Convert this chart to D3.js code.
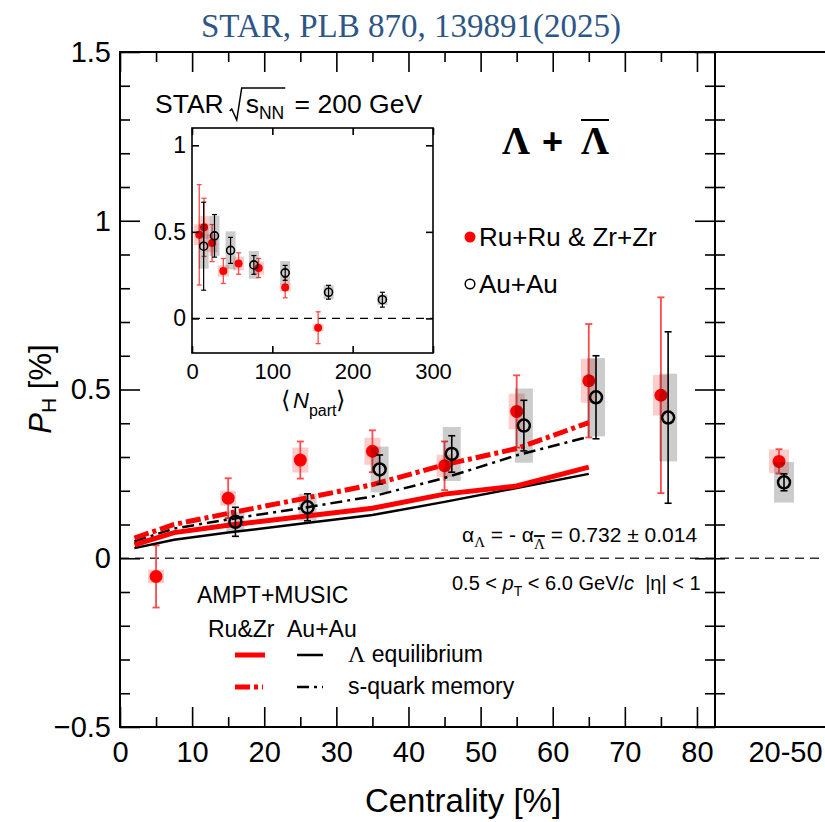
<!DOCTYPE html>
<html>
<head>
<meta charset="utf-8">
<title>STAR global hyperon polarization</title>
<script src="https://cdn.jsdelivr.net/npm/d3@7"></script>
<style>
  body { margin: 0; background: #fff; }
  text { font-family: "Liberation Sans", Arial, Helvetica, sans-serif; fill: #000; white-space: pre; }
  .serif { font-family: "Liberation Serif", "Times New Roman", serif; }
  .frame { stroke: #000; stroke-width: 2; fill: none; }
  .tk line { stroke: #000; stroke-width: 1.6; }
  .tk .domain { display: none; }
</style>
</head>
<body>
<script>
// ---------- data ----------
// isobar (Ru+Ru & Zr+Zr) points, P_H [%] vs centrality [%]
var centRu  = [5, 15, 25, 35, 45, 55, 65, 75];
var phRu    = [-0.054, 0.178, 0.291, 0.317, 0.274, 0.435, 0.526, 0.483];
var statRu  = [0.092, 0.059, 0.055, 0.062, 0.072, 0.107, 0.168, 0.290];
var sysRu   = [0.020, 0.022, 0.037, 0.040, 0.033, 0.053, 0.065, 0.060];
var npartRu = [157, 116, 83, 58, 39, 25, 15, 9];

// Au+Au points (drawn shifted by +1 in centrality)
var centAu  = [15, 25, 35, 45, 55, 65, 75];
var phAu    = [0.108, 0.151, 0.263, 0.309, 0.393, 0.477, 0.417];
var statAu  = [0.043, 0.040, 0.043, 0.054, 0.075, 0.123, 0.254];
var sysAu   = [0.030, 0.040, 0.068, 0.080, 0.110, 0.116, 0.130];
var npartAu = [237, 170, 116, 77, 48, 28, 14.5];
var auShift = 1;

// AMPT+MUSIC curves
var centModel = [2, 7.5, 15, 25, 35, 45, 55, 65];
var eqRuZr  = [0.040, 0.076, 0.098, 0.123, 0.148, 0.190, 0.214, 0.270];
var eqAuAu  = [0.030, 0.055, 0.076, 0.102, 0.128, 0.167, 0.208, 0.250];
var memRuZr = [0.060, 0.100, 0.133, 0.175, 0.218, 0.277, 0.325, 0.402];
var memAuAu = [0.050, 0.088, 0.115, 0.148, 0.183, 0.238, 0.305, 0.360];

// 20-50% integrated panel
var avgBins   = ["20-50"];
var phRuAvg   = [0.287];
var statRuAvg = [0.036];
var sysRuAvg  = [0.035];
var phAuAvg   = [0.225];
var statAuAvg = [0.025];
var sysAuAvg  = [0.060];

// ticks
var xMajor = [0, 10, 20, 30, 40, 50, 60, 70, 80];
var xMinor = [5, 15, 25, 35, 45, 55, 65, 75];
var yMajor = [-0.5, 0, 0.5, 1, 1.5];
var yMinor = [-0.4, -0.3, -0.2, -0.1, 0.1, 0.2, 0.3, 0.4, 0.6, 0.7, 0.8, 0.9, 1.1, 1.2, 1.3, 1.4];
var yAll   = [-0.4, -0.3, -0.2, -0.1, 0, 0.1, 0.2, 0.3, 0.4, 0.5, 0.6, 0.7, 0.8, 0.9, 1, 1.1, 1.2, 1.3, 1.4];
var inXTicks = [0, 100, 200, 300];
var inYTicks = [0, 0.5, 1];

// ---------- setup ----------
var width = 825, height = 822;
var RED = "#ff0000", RED_BAR = "#ff4a4a", RED_BOX = "rgba(255,0,0,0.2)", GRAY_BOX = "rgba(0,0,0,0.2)";

var svg = d3.select("body").append("svg").attr("width", width).attr("height", height);

var x  = d3.scaleLinear().domain([0, 82.5]).range([120, 715]);
var y  = d3.scaleLinear().domain([-0.5, 1.5]).range([727, 52]);
var xr = d3.scalePoint().domain(avgBins).range([715, 855]).padding(0.5);

var xi = d3.scaleLinear().domain([0, 300]).range([192, 433]);
var yi = d3.scaleLinear().domain([-0.2, 1.1]).range([353, 128]);

var fmt = d3.format("~g");

// ---------- helpers ----------
function boxes(g, px, vals, errs, ys, hw, fill) {
  g.selectAll(null).data(vals).enter().append("rect")
    .attr("x", function(d, i) { return px[i] - hw; })
    .attr("y", function(d, i) { return ys(d + errs[i]); })
    .attr("width", 2 * hw)
    .attr("height", function(d, i) { return ys(d - errs[i]) - ys(d + errs[i]); })
    .attr("fill", fill);
}

function bars(g, px, vals, errs, ys, cap, color, w) {
  var e = g.selectAll(null).data(vals).enter().append("g")
    .attr("stroke", color).attr("stroke-width", w);
  e.append("line")
    .attr("x1", function(d, i) { return px[i]; }).attr("x2", function(d, i) { return px[i]; })
    .attr("y1", function(d, i) { return ys(d + errs[i]); })
    .attr("y2", function(d, i) { return ys(d - errs[i]); });
  [1, -1].forEach(function(s) {
    e.append("line")
      .attr("x1", function(d, i) { return px[i] - cap; }).attr("x2", function(d, i) { return px[i] + cap; })
      .attr("y1", function(d, i) { return ys(d + s * errs[i]); })
      .attr("y2", function(d, i) { return ys(d + s * errs[i]); });
  });
}

function dots(g, px, vals, ys, r, filled, sw) {
  g.selectAll(null).data(vals).enter().append("circle")
    .attr("cx", function(d, i) { return px[i]; })
    .attr("cy", function(d) { return ys(d); })
    .attr("r", r)
    .attr("fill", filled ? RED : "none")
    .attr("stroke", filled ? "none" : "#000")
    .attr("stroke-width", sw || 0);
}

// place text pieces one after another, returns [x0, x1] of each piece
function seq(g, x0, y0, parts) {
  var cx = x0, out = [];
  parts.forEach(function(p) {
    cx += p.gap || 0;
    var t = g.append("text").attr("x", cx).attr("y", y0 + (p.dy || 0))
      .attr("font-size", p.size).text(p.t);
    if (p.italic) t.attr("font-style", "italic");
    if (p.bold) t.attr("font-weight", "bold");
    if (p.cls) t.attr("class", p.cls);
    if (p.fill) t.style("fill", p.fill);
    var w = t.node().getComputedTextLength();
    out.push([cx, cx + w]);
    cx += w;
  });
  return out;
}

function tickSet(g, axisFn, scale, vals, size) {
  g.attr("class", "tk").call(axisFn(scale).tickValues(vals).tickSize(size).tickFormat(""));
}

// ---------- title ----------
svg.append("text").attr("class", "serif")
  .attr("x", 411).attr("y", 37).attr("text-anchor", "middle")
  .attr("font-size", 33).style("fill", "#2d5687")
  .text("STAR, PLB 870, 139891(2025)");

// ---------- main frame & ticks ----------
var yZero = y(0);
svg.append("line").attr("x1", 120).attr("x2", width).attr("y1", yZero).attr("y2", yZero)
  .attr("stroke", "#333").attr("stroke-width", 1.3).attr("stroke-dasharray", "9,6");

tickSet(svg.append("g").attr("transform", "translate(120,0)"), d3.axisRight, y, yMajor, 20);
tickSet(svg.append("g").attr("transform", "translate(120,0)"), d3.axisRight, y, yMinor, 10);
tickSet(svg.append("g").attr("transform", "translate(715,0)"), d3.axisLeft, y, yMajor, 20);
tickSet(svg.append("g").attr("transform", "translate(715,0)"), d3.axisLeft, y, yMinor, 10);
tickSet(svg.append("g").attr("transform", "translate(715,0)"), d3.axisRight, y, yAll, 10);
tickSet(svg.append("g").attr("transform", "translate(0,727)"), d3.axisTop, x, xMajor, 20);
tickSet(svg.append("g").attr("transform", "translate(0,727)"), d3.axisTop, x, xMinor, 10);
tickSet(svg.append("g").attr("transform", "translate(0,52)"), d3.axisBottom, x, xMajor, 20);
tickSet(svg.append("g").attr("transform", "translate(0,52)"), d3.axisBottom, x, xMinor, 10);

svg.append("path").attr("class", "frame")
  .attr("d", "M" + width + ",52H120V727H" + width + "M715,52V727");

// tick labels
svg.append("g").attr("transform", "translate(120,0)")
  .call(d3.axisLeft(y).tickValues(yMajor).tickSize(0).tickPadding(9).tickFormat(fmt))
  .call(function(g) { g.select(".domain").remove(); })
  .selectAll("text").attr("font-size", 29).style("font-family", null);
svg.append("g").attr("transform", "translate(0,727)")
  .call(d3.axisBottom(x).tickValues(xMajor).tickSize(0).tickPadding(14).tickFormat(fmt))
  .call(function(g) { g.select(".domain").remove(); })
  .selectAll("text").attr("font-size", 29).style("font-family", null);
svg.append("g").attr("transform", "translate(0,727)")
  .call(d3.axisBottom(xr).tickSize(0).tickPadding(14))
  .call(function(g) { g.select(".domain").remove(); })
  .selectAll("text").attr("font-size", 29).style("font-family", null);

// axis titles
svg.append("text").attr("x", 463).attr("y", 812).attr("text-anchor", "middle")
  .attr("font-size", 33).text("Centrality [%]");
var yl = svg.append("text").attr("transform", "translate(51,389) rotate(-90)")
  .attr("text-anchor", "middle").attr("font-size", 31);
yl.append("tspan").attr("font-style", "italic").text("P");
yl.append("tspan").attr("font-size", 21).attr("dy", 5).text("H");
yl.append("tspan").attr("dy", -5).text(" [%]");

// ---------- main data ----------
var pxRu = centRu.map(function(c) { return x(c); });
var pxAu = centAu.map(function(c) { return x(c + auShift); });
var pxRuAvg = avgBins.map(function(b) { return xr(b) - 6; });
var pxAuAvg = avgBins.map(function(b) { return xr(b) - 1; });

var gData = svg.append("g");
boxes(gData, pxRu, phRu, sysRu, y, 8, RED_BOX);
boxes(gData, pxRuAvg, phRuAvg, sysRuAvg, y, 10, RED_BOX);
bars(gData, pxRu, phRu, statRu, y, 3.5, RED_BAR, 1.8);
bars(gData, pxRuAvg, phRuAvg, statRuAvg, y, 3.5, RED_BAR, 1.8);
dots(gData, pxRu, phRu, y, 6.5, true);
dots(gData, pxRuAvg, phRuAvg, y, 6.5, true);
boxes(gData, pxAu, phAu, sysAu, y, 9, GRAY_BOX);
boxes(gData, pxAuAvg, phAuAvg, sysAuAvg, y, 10, GRAY_BOX);

// model curves
var line = d3.line().x(function(d) { return x(d[0]); }).y(function(d) { return y(d[1]); });
function curve(vals, color, w, dash) {
  svg.append("path").datum(d3.zip(centModel, vals)).attr("d", line)
    .attr("fill", "none").attr("stroke", color).attr("stroke-width", w)
    .attr("stroke-dasharray", dash || null);
}
curve(eqAuAu, "#000", 2.5);
curve(memAuAu, "#000", 2.5, "12,5,3,5");
curve(eqRuZr, RED, 5);
curve(memRuZr, RED, 5, "15,4,4,4");

var gAu = svg.append("g");
bars(gAu, pxAu, phAu, statAu, y, 3.5, "#000", 1.6);
bars(gAu, pxAuAvg, phAuAvg, statAuAvg, y, 3.5, "#000", 1.6);
dots(gAu, pxAu, phAu, y, 6, false, 2.5);
dots(gAu, pxAuAvg, phAuAvg, y, 6, false, 2.5);

// ---------- texts in main panel ----------
var star = svg.append("g");
var sp = seq(star, 155, 113, [
  { t: "STAR", size: 26.5 },
  { t: "s", size: 26.5, gap: 22 },
  { t: "NN", size: 17.5, dy: 6 },
  { t: " = 200 GeV", size: 26.5, gap: 3 }
]);
var rs = sp[0][1] + 6, rb = 113;
star.append("path")
  .attr("d", "M" + rs + "," + (rb - 2) + "l2,-2l5,11l5,-32H" + (sp[2][1] + 1))
  .attr("fill", "none").attr("stroke", "#000").attr("stroke-width", 1.5);

var lam = seq(svg, 502, 154, [
  { t: "Λ", size: 39, cls: "serif", bold: true },
  { t: "+", size: 36, bold: true, gap: 12 },
  { t: "Λ", size: 39, cls: "serif", bold: true, gap: 18 }
]);
svg.append("line").attr("x1", lam[2][0]).attr("x2", lam[2][1])
  .attr("y1", 120).attr("y2", 120).attr("stroke", "#000").attr("stroke-width", 2);

// data legend
svg.append("circle").attr("cx", 470).attr("cy", 237).attr("r", 5.5).attr("fill", RED);
svg.append("text").attr("x", 479).attr("y", 246).attr("font-size", 26).text("Ru+Ru & Zr+Zr");
svg.append("circle").attr("cx", 470).attr("cy", 284).attr("r", 4.8)
  .attr("fill", "none").attr("stroke", "#000").attr("stroke-width", 1.5);
svg.append("text").attr("x", 479).attr("y", 293).attr("font-size", 26).text("Au+Au");

// alpha and kinematics
var al = seq(svg, 462, 542, [
  { t: "α", size: 21 },
  { t: "Λ", size: 15, dy: 5, cls: "serif" },
  { t: " = - α", size: 21 },
  { t: "Λ", size: 15, dy: 7, cls: "serif" },
  { t: " = 0.732 ± 0.014", size: 21 }
]);
svg.append("line").attr("x1", al[3][0]).attr("x2", al[3][1])
  .attr("y1", 536).attr("y2", 536).attr("stroke", "#000").attr("stroke-width", 1.8);

seq(svg, 452, 590, [
  { t: "0.5 < ", size: 20 },
  { t: "p", size: 20, italic: true },
  { t: "T", size: 14, dy: 6 },
  { t: " < 6.0 GeV/", size: 20 },
  { t: "c", size: 20, italic: true },
  { t: "  |η| < 1", size: 20 }
]);

// model legend
svg.append("text").attr("x", 197).attr("y", 603).attr("font-size", 23).text("AMPT+MUSIC");
svg.append("text").attr("x", 208).attr("y", 637).attr("font-size", 23).text("Ru&Zr");
svg.append("text").attr("x", 287).attr("y", 637).attr("font-size", 23).text("Au+Au");
function legLine(x1, x2, yy, color, w, dash) {
  svg.append("line").attr("x1", x1).attr("x2", x2).attr("y1", yy).attr("y2", yy)
    .attr("stroke", color).attr("stroke-width", w).attr("stroke-dasharray", dash || null);
}
legLine(235, 265, 655, RED, 5);
legLine(297, 323, 655, "#000", 2.5);
legLine(235, 263, 687, RED, 5, "15,4,4,4");
legLine(297, 323, 687, "#000", 2.5, "12,5,3,5");
seq(svg, 348, 662, [
  { t: "Λ", size: 24, cls: "serif" },
  { t: " equilibrium", size: 23 }
]);
svg.append("text").attr("x", 348).attr("y", 694).attr("font-size", 23).text("s-quark memory");

// ---------- inset: P_H vs <Npart> ----------
var gi = svg.append("g");
gi.append("line").attr("x1", xi(0)).attr("x2", xi(300)).attr("y1", yi(0)).attr("y2", yi(0))
  .attr("stroke", "#000").attr("stroke-width", 1.3).attr("stroke-dasharray", "8,6");

var ipxRu = npartRu.map(function(n) { return xi(n); });
var ipxAu = npartAu.map(function(n) { return xi(n); });
boxes(gi, ipxRu, phRu, sysRu, yi, 5.5, RED_BOX);
bars(gi, ipxRu, phRu, statRu, yi, 2.5, RED_BAR, 1.3);
dots(gi, ipxRu, phRu, yi, 4, true);
boxes(gi, ipxAu, phAu, sysAu, yi, 5, GRAY_BOX);
bars(gi, ipxAu, phAu, statAu, yi, 2.5, "#000", 1.2);
dots(gi, ipxAu, phAu, yi, 4, false, 1.6);

tickSet(gi.append("g").attr("transform", "translate(0," + yi(-0.2) + ")"), d3.axisTop, xi, inXTicks, 7);
tickSet(gi.append("g").attr("transform", "translate(0," + yi(1.1) + ")"), d3.axisBottom, xi, inXTicks, 7);
tickSet(gi.append("g").attr("transform", "translate(" + xi(0) + ",0)"), d3.axisRight, yi, inYTicks, 7);
tickSet(gi.append("g").attr("transform", "translate(" + xi(300) + ",0)"), d3.axisLeft, yi, inYTicks, 7);
gi.append("rect").attr("x", xi(0)).attr("y", yi(1.1))
  .attr("width", xi(300) - xi(0)).attr("height", yi(-0.2) - yi(1.1))
  .attr("fill", "none").attr("stroke", "#000").attr("stroke-width", 1.6);

gi.append("g").attr("transform", "translate(" + xi(0) + ",0)")
  .call(d3.axisLeft(yi).tickValues(inYTicks).tickSize(0).tickPadding(6).tickFormat(fmt))
  .call(function(g) { g.select(".domain").remove(); })
  .selectAll("text").attr("font-size", 23).style("font-family", null);
gi.append("g").attr("transform", "translate(0," + yi(-0.2) + ")")
  .call(d3.axisBottom(xi).tickValues(inXTicks).tickSize(0).tickPadding(10).tickFormat(fmt))
  .call(function(g) { g.select(".domain").remove(); })
  .selectAll("text").attr("font-size", 22).style("font-family", null);

seq(gi, 281, 408, [
  { t: "⟨", size: 24 },
  { t: "N", size: 22, italic: true, gap: 3 },
  { t: "part", size: 16, dy: 8 },
  { t: "⟩", size: 24 }
]);
</script>
</body>
</html>
